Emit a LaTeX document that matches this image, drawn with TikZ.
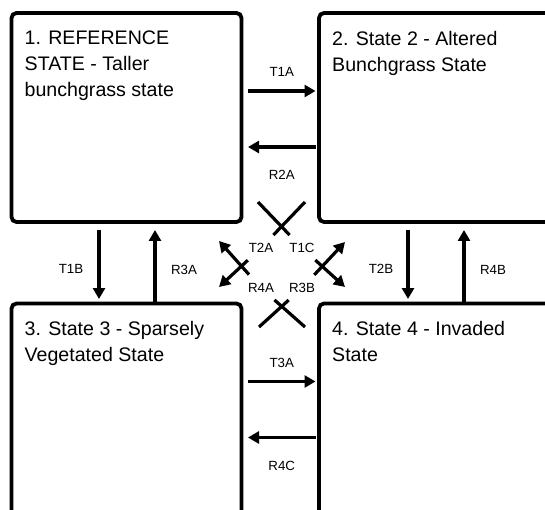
\documentclass[tikz,border=0pt]{standalone}
\usepackage{fontspec}
\setmainfont{Liberation Sans}
\usepackage{tikz}
\usetikzlibrary{arrows.meta, positioning}

\begin{document}
\begin{tikzpicture}[x=1pt, y=-1pt,
      state/.style={rectangle, draw, line width=3.8pt, rounded corners=5pt,
                    outer sep=0pt, inner sep=0pt, anchor=north west},
      txt/.style={anchor=north west, inner sep=0pt, align=left,
                  font=\fontsize{19.6}{26}\selectfont},
      lbl/.style={font=\fontsize{13.3}{15}\selectfont, inner sep=1pt},
      gap/.style={lbl, circle, minimum size=36pt, outer sep=0pt},
      arr/.style={-{Triangle[length=11pt, width=12pt]}, line width=3.2pt},
      seg/.style={line width=3.2pt}
    ]
    \useasboundingbox (0,0) rectangle (545,510);
    \clip (0,0) rectangle (545,510);

    % the four states
    \node[state, minimum width=230pt, minimum height=209pt] (s1) at (11.5,13) {};
    \node[state, minimum width=240pt, minimum height=209pt] (s2) at (319,13) {};
    \node[state, minimum width=230pt, minimum height=220pt] (s3) at (11.5,303.5) {};
    \node[state, minimum width=240pt, minimum height=220pt] (s4) at (319,303.5) {};

    \node[txt] (l1) at ([shift={(13,18)}]s1.north west) {1. REFERENCE\\STATE - Taller\\bunchgrass state};
    \node[txt] (l2) at ([shift={(13,18)}]s2.north west) {2. State 2 - Altered\\Bunchgrass State};
    \node[txt] (l3) at ([shift={(13,18)}]s3.north west) {3. State 3 - Sparsely\\Vegetated State};
    \node[txt] (l4) at ([shift={(13,18)}]s4.north west) {4. State 4 - Invaded\\State};

    % horizontal transitions
    \draw[arr] ([xshift=6.5pt, yshift=-78pt]s1.north east) -- ([xshift=-3.5pt, yshift=-78pt]s2.north west)
      node[midway, yshift=19pt, lbl] (t1a) {T1A};
    \draw[arr] ([xshift=-3.5pt, yshift=-134pt]s2.north west) -- ([xshift=6.5pt, yshift=-134pt]s1.north east)
      node[midway, yshift=-28pt, lbl] (r2a) {R2A};
    \draw[arr] ([xshift=6.5pt, yshift=-78pt]s3.north east) -- ([xshift=-3.5pt, yshift=-78pt]s4.north west)
      node[midway, yshift=19pt, lbl] (t3a) {T3A};
    \draw[arr] ([xshift=-3.5pt, yshift=-134pt]s4.north west) -- ([xshift=6.5pt, yshift=-134pt]s3.north east)
      node[midway, yshift=-28pt, lbl] (r4c) {R4C};

    % vertical transitions
    \draw[arr] ([xshift=87.5pt, yshift=-8pt]s1.south west) -- ([xshift=87.5pt, yshift=4.5pt]s3.north west)
      node[midway, xshift=-28pt, yshift=-4pt, lbl] (t1b) {T1B};
    \draw[arr] ([xshift=143.5pt, yshift=2pt]s3.north west) -- ([xshift=143.5pt, yshift=-8pt]s1.south west)
      node[midway, xshift=29pt, yshift=-4pt, lbl] (r3a) {R3A};
    \draw[arr] ([xshift=89pt, yshift=-8pt]s2.south west) -- ([xshift=89pt, yshift=4.5pt]s4.north west)
      node[midway, xshift=-27pt, yshift=-4pt, lbl] (t2b) {T2B};
    \draw[arr] ([xshift=145pt, yshift=2pt]s4.north west) -- ([xshift=145pt, yshift=-8pt]s2.south west)
      node[midway, xshift=29pt, yshift=-4pt, lbl] (r4b) {R4B};

    % diagonal transitions
    \coordinate (c1) at (258,202);
    \coordinate (c2) at (305,202);
    \coordinate (c3) at (259,327);
    \coordinate (c4) at (305,327);
    \coordinate (e1) at (345,287);
    \coordinate (e2) at (219,287);
    \coordinate (e3) at (345,242);
    \coordinate (e4) at (219,241);
    \node[gap] (t2a) at (261,248) {T2A};
    \node[gap] (t1c) at (302,248) {T1C};
    \node[gap] (r4a) at (261,288) {R4A};
    \node[gap] (r3b) at (302,288) {R3B};

    \draw[seg] (c1) -- (t1c);
    \draw[arr] (t1c) -- (e1);
    \draw[seg] (c2) -- (t2a);
    \draw[arr] (t2a) -- (e2);
    \draw[seg] (c3) -- (r3b);
    \draw[arr] (r3b) -- (e3);
    \draw[seg] (c4) -- (r4a);
    \draw[arr] (r4a) -- (e4);
  \end{tikzpicture}
\end{document}
